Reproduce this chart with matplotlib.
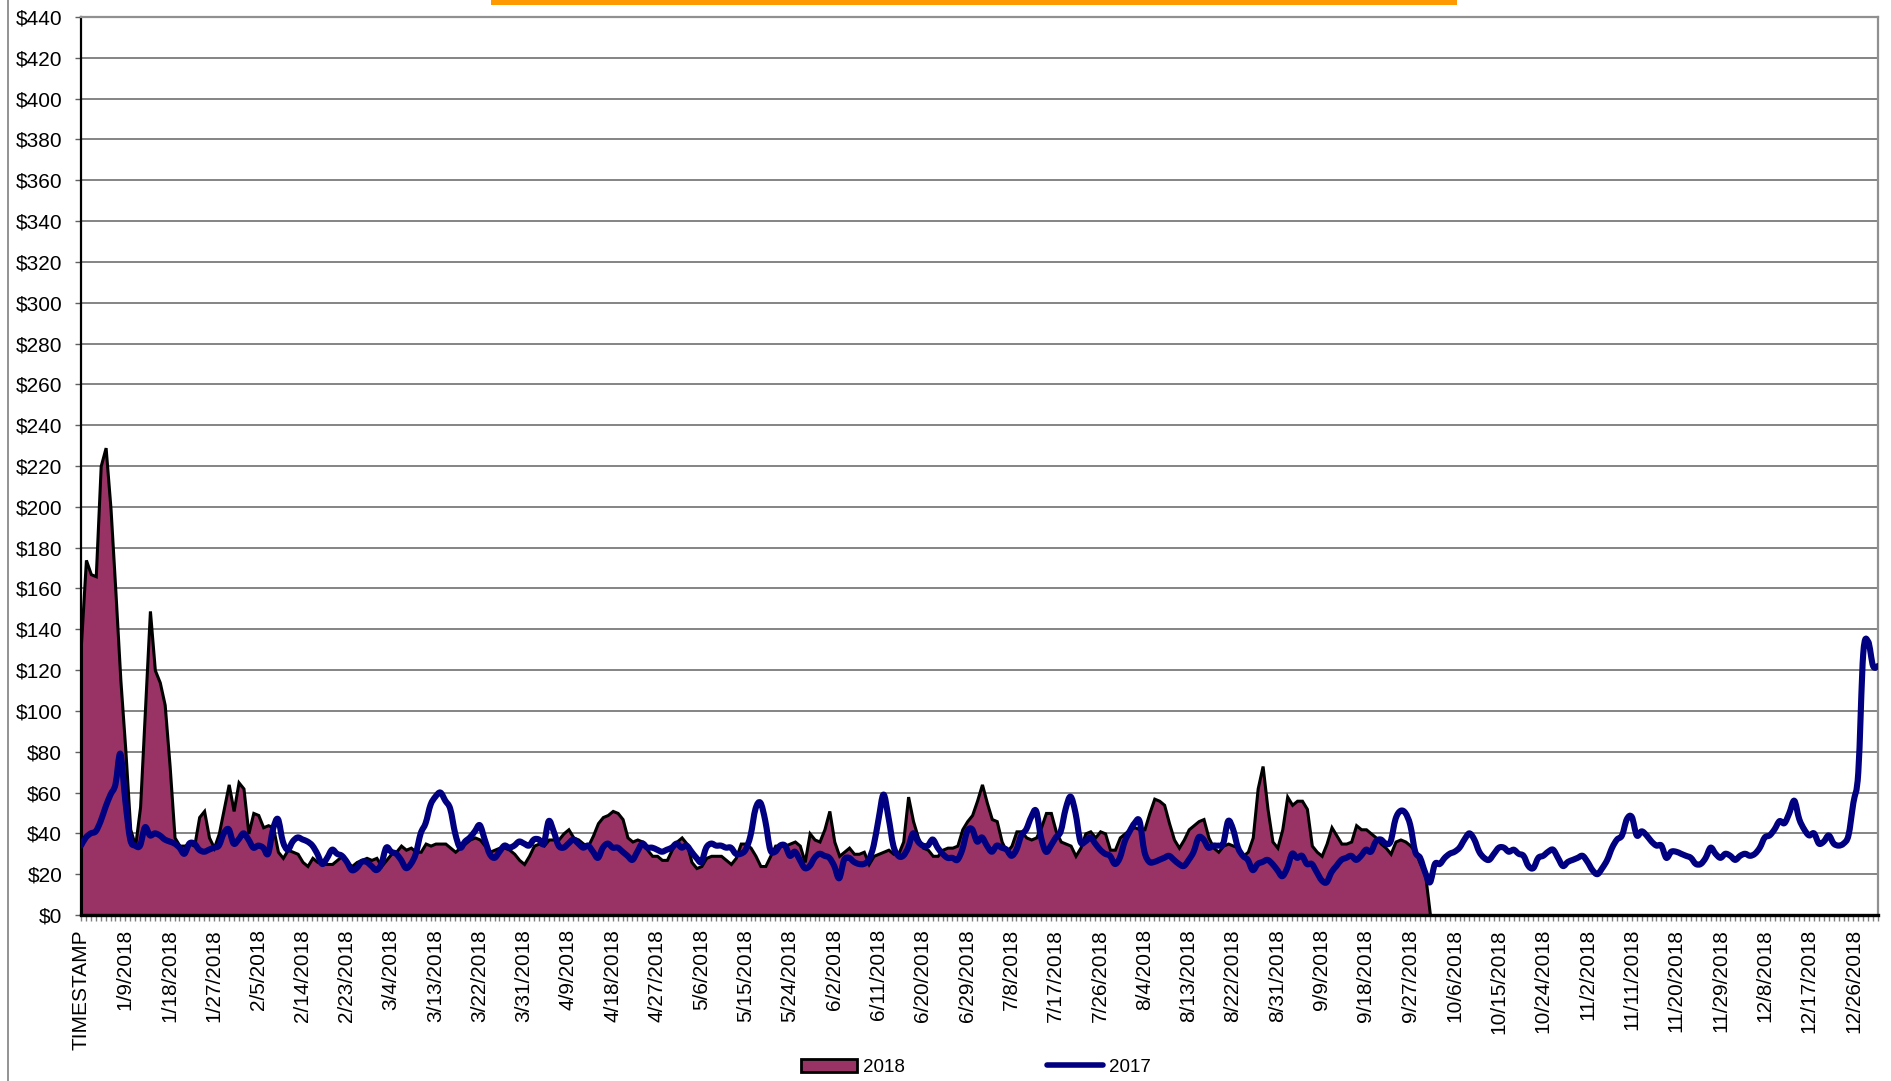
import matplotlib
matplotlib.use("Agg")
import matplotlib.pyplot as plt
from matplotlib.patches import Rectangle, Patch, PathPatch
from matplotlib.lines import Line2D
from matplotlib.path import Path
import pandas as pd

plt.rcParams['font.family'] = ['Liberation Sans', 'DejaVu Sans']

# categories: first row is the header cell, then every day of 2018
dias = pd.date_range('2018-01-01', '2018-12-31')
categorias = ['TIMESTAMP'] + [f"{d.month}/{d.day}/{d.year}" for d in dias]

# daily values ($)
serie_2018 = [
    133, 174, 167, 166, 220, 229, 199, 158, 115, 81,
    42, 34, 53, 101, 149, 120, 114, 103, 73, 38,
    34, 34, 35, 34, 48, 51, 38, 33, 40, 52,
    64, 51, 65, 62, 40, 50, 49, 43, 44, 43,
    31, 28, 32, 31, 30, 26, 24, 28, 26, 25,
    25, 25, 27, 29, 26, 24, 26, 27, 28, 27,
    28, 24, 27, 30, 31, 34, 32, 33, 31, 31,
    35, 34, 35, 35, 35, 33, 31, 33, 35, 37,
    38, 37, 34, 31, 32, 33, 33, 32, 30, 27,
    25, 29, 34, 35, 34, 37, 37, 37, 40, 42,
    38, 37, 35, 34, 39, 45, 48, 49, 51, 50,
    47, 38, 36, 37, 36, 32, 29, 29, 27, 27,
    32, 36, 38, 35, 26, 23, 24, 28, 29, 29,
    29, 27, 25, 28, 35, 35, 33, 29, 24, 24,
    29, 34, 34, 34, 35, 36, 34, 26, 40, 37,
    36, 42, 51, 36, 29, 31, 33, 30, 30, 31,
    25, 29, 30, 31, 32, 30, 30, 36, 58, 46,
    38, 33, 32, 29, 29, 32, 33, 33, 34, 42,
    46, 49, 56, 64, 55, 47, 46, 36, 31, 34,
    41, 41, 38, 37, 38, 43, 50, 50, 41, 36,
    35, 34, 29, 33, 40, 41, 38, 41, 40, 32,
    32, 38, 40, 42, 43, 42, 42, 50, 57, 56,
    54, 45, 37, 33, 37, 42, 44, 46, 47, 38,
    33, 31, 34, 35, 34, 33, 29, 31, 38, 62,
    73, 52, 36, 33, 42, 58, 54, 56, 56, 52,
    34, 31, 29, 35, 43, 39, 35, 35, 36, 44,
    42, 42, 40, 38, 35, 33, 30, 36, 37, 36,
    34, 31, 25, 20, 0,
]

serie_2017 = [
    34, 38, 40, 41, 46, 53, 59, 64, 79, 56,
    37, 34, 34, 43, 39, 40, 39, 37, 36, 35,
    33, 30, 35, 35, 32, 31, 32, 33, 34, 40,
    42, 35, 37, 40, 37, 33, 34, 33, 30, 42,
    47, 36, 32, 36, 38, 37, 36, 34, 30, 25,
    28, 32, 30, 29, 26, 22, 23, 26, 26, 24,
    22, 25, 33, 31, 30, 27, 23, 25, 30, 40,
    45, 54, 58, 60, 56, 52, 40, 33, 36, 38,
    41, 44, 37, 30, 28, 31, 34, 33, 34, 36,
    35, 34, 37, 37, 35, 46, 41, 34, 33, 35,
    37, 35, 33, 34, 31, 28, 33, 35, 33, 33,
    31, 29, 27, 31, 35, 33, 33, 32, 31, 32,
    33, 35, 33, 34, 31, 28, 26, 33, 35, 34,
    34, 33, 33, 30, 30, 32, 39, 52, 55, 46,
    32, 31, 34, 34, 29, 31, 27, 23, 24, 28,
    30, 29, 28, 24, 18, 27, 28, 26, 25, 25,
    27, 34, 47, 59, 48, 34, 29, 29, 33, 40,
    36, 34, 34, 37, 33, 30, 28, 28, 27, 32,
    41, 42, 36, 38, 34, 31, 34, 33, 32, 29,
    32, 39, 42, 48, 51, 38, 31, 34, 38, 41,
    52, 58, 50, 36, 36, 38, 35, 32, 30, 29,
    25, 28, 36, 41, 45, 46, 31, 26, 26, 27,
    28, 29, 27, 25, 24, 27, 31, 38, 37, 33,
    34, 34, 35, 46, 42, 33, 29, 27, 22, 25,
    26, 27, 25, 22, 19, 23, 30, 28, 29, 25,
    25, 21, 17, 16, 21, 24, 27, 28, 29, 27,
    29, 32, 31, 36, 37, 35, 36, 47, 51, 50,
    44, 31, 28, 21, 16, 25, 25, 28, 30, 31,
    33, 37, 40, 37, 31, 28, 27, 30, 33, 33,
    31, 32, 30, 29, 24, 23, 28, 29, 31, 32,
    28, 24, 26, 27, 28, 29, 26, 22, 20, 23,
    27, 33, 37, 39, 47, 48, 39, 41, 39, 36,
    34, 34, 28, 31, 31, 30, 29, 28, 25, 25,
    28, 33, 30, 28, 30, 29, 27, 29, 30, 29,
    30, 33, 38, 39, 42, 46, 45, 50, 56, 47,
    42, 39, 40, 35, 36, 39, 35, 34, 35, 39,
    55, 70, 128, 134, 122, 122,
]

y_ticks = list(range(0, 441, 20))
paso_etiquetas = 9

color_2018 = '#993366'
color_2017 = '#000080'


def camino_suave(xs, ys):
    # Excel style "smoothed line": cubic bezier through every data point
    verts = [(xs[0], ys[0])]
    codes = [Path.MOVETO]
    n = len(xs)
    for i in range(n - 1):
        x0, y0 = xs[max(i - 1, 0)], ys[max(i - 1, 0)]
        x1, y1 = xs[i], ys[i]
        x2, y2 = xs[i + 1], ys[i + 1]
        x3, y3 = xs[min(i + 2, n - 1)], ys[min(i + 2, n - 1)]
        verts += [(x1 + (x2 - x0) / 6, y1 + (y2 - y0) / 6),
                  (x2 - (x3 - x1) / 6, y2 - (y3 - y1) / 6),
                  (x2, y2)]
        codes += [Path.CURVE4] * 3
    return Path(verts, codes)


fig = plt.figure(figsize=(18.91, 10.81), dpi=100)
ax = fig.add_axes([81 / 1891, 1 - 915 / 1081, (1878 - 81) / 1891, (915 - 17) / 1081])

x_2018 = list(range(len(serie_2018)))
x_2017 = list(range(len(serie_2017)))

ax.fill_between(x_2018, serie_2018, 0, facecolor=color_2018, edgecolor='black',
                linewidth=2.2, joinstyle='miter', zorder=2)
ax.add_patch(PathPatch(camino_suave(x_2017, serie_2017), facecolor='none',
                       edgecolor=color_2017, linewidth=4.4, joinstyle='round',
                       capstyle='round', zorder=3))

ax.set_xlim(0, len(categorias) - 1)
ax.set_ylim(0, 440)

ax.set_yticks(y_ticks)
ax.set_yticklabels([f"${v}" for v in y_ticks], fontsize=15)
ax.yaxis.grid(True, color='#707070', linewidth=1.2, zorder=0)
ax.set_axisbelow(True)

pos = list(range(0, len(categorias), paso_etiquetas))
ax.set_xticks(pos)
ax.set_xticklabels([categorias[p] for p in pos], rotation=90, fontsize=15)
ax.set_xticks(range(len(categorias)), minor=True)
ax.tick_params(axis='x', which='both', length=4, width=1, color='#808080', pad=6)
ax.tick_params(axis='y', length=4.5, width=1, color='#606060', pad=9)

ax.spines['bottom'].set_linewidth(2.4)
ax.spines['bottom'].set_color('black')
ax.spines['bottom'].set_zorder(4)
ax.spines['left'].set_linewidth(1.6)
ax.spines['left'].set_color('black')
ax.spines['right'].set_color('#909090')
ax.spines['right'].set_linewidth(1.6)
ax.spines['top'].set_color('#909090')
ax.spines['top'].set_linewidth(1.6)

# legend at the bottom
handles = [Patch(facecolor=color_2018, edgecolor='black', linewidth=2),
           Line2D([0], [0], color=color_2017, linewidth=4, solid_capstyle='round')]
fig.legend(handles, ['2018', '2017'], loc='center', bbox_to_anchor=(0.516, 0.0125),
           ncol=2, frameon=False, fontsize=13.5, handlelength=3.0, handleheight=0.7,
           handletextpad=0.3, columnspacing=7.6)

# orange title bar cut off at the top edge and outer chart border
fig.patches.append(Rectangle((491 / 1891, 1 - 5 / 1081), (1457 - 491) / 1891, 6 / 1081,
                             transform=fig.transFigure, facecolor='#FF9900',
                             edgecolor='none'))
fig.lines.append(Line2D([7.5 / 1891, 7.5 / 1891], [0, 1], transform=fig.transFigure,
                        color='#808080', linewidth=1.2))

fig.savefig('out.png', dpi=100)
